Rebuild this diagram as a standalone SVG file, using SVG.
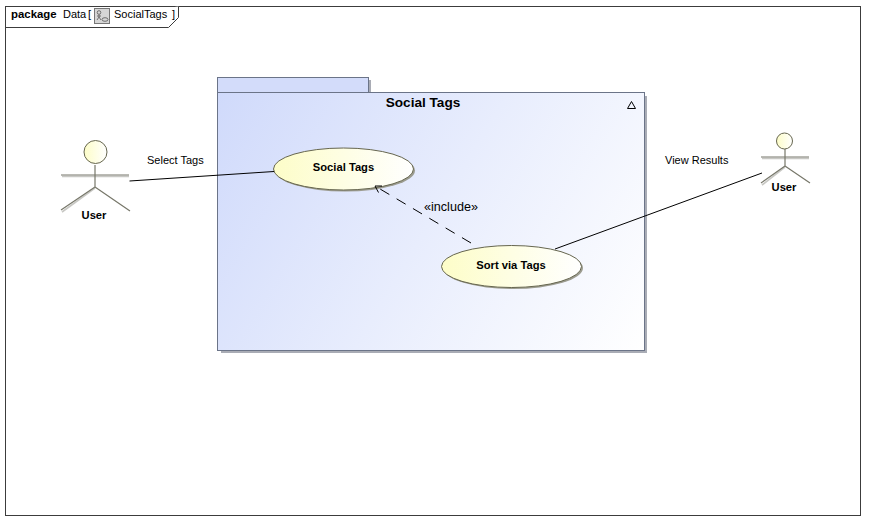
<svg xmlns="http://www.w3.org/2000/svg" width="875" height="530" viewBox="0 0 875 530">
<style>
text{font-family:"Liberation Sans",Arial,sans-serif;fill:#000}
.lbl{font-size:11px}
.b{font-size:11.200px;font-weight:bold;text-anchor:middle}
.shadow{fill:#a9acb5;stroke:none}
.pkg{fill:url(#pg);stroke:#6b7488;stroke-width:1}
.tab{fill:#d3dcfa;stroke:#6b7488;stroke-width:1}
.uc{fill:url(#ug);stroke:#66664f;stroke-width:1}
.ucs{fill:#9c9c90;stroke:none}
.limb{stroke:#77776a;stroke-width:1.2;fill:none}
.limbs{stroke:#c8c8c4;stroke-width:1.6;fill:none}
.head{fill:url(#ug);stroke:#66664f;stroke-width:1}
.conn{stroke:#000;stroke-width:1;fill:none}
</style>
<defs>
<linearGradient id="pg" gradientUnits="userSpaceOnUse" x1="218" y1="93" x2="645" y2="350"><stop offset="0" stop-color="#d0dafb"/><stop offset=".5" stop-color="#e8edfd"/><stop offset="1" stop-color="#ffffff"/></linearGradient>
<linearGradient id="ug" x1="0" y1="0" x2="1" y2="0"><stop offset="0" stop-color="#fdfdc8"/><stop offset="1" stop-color="#ffffff"/></linearGradient>
</defs>
<rect width="875" height="530" fill="#fff"/>
<g id="frame">
<rect x="5.500" y="6.500" width="855" height="509" fill="#fff" stroke="#3c3c3c" stroke-width="1"/>
<path d="M5.500 27.500H168.500L178.500 17.500V6.500" fill="#fff" stroke="#3c3c3c" stroke-width="1"/>
<text x="11" y="18" style="font-size:11.400px;font-weight:bold">package</text>
<text x="63" y="18" class="lbl">Data</text>
<text x="88" y="18" class="lbl">[</text>
<rect x="94.500" y="8.500" width="15" height="15" fill="#d6d6d6" stroke="#777"/>
<circle cx="99" cy="12.500" r="1.800" fill="none" stroke="#555" stroke-width=".8"/>
<path d="M99 14.500V17M97 16H101M99 17L97 20M99 17L101 20" fill="none" stroke="#555" stroke-width=".8"/>
<ellipse cx="105" cy="19.500" rx="3" ry="1.800" fill="none" stroke="#555" stroke-width=".8"/>
<text x="114" y="18" class="lbl">SocialTags</text>
<text x="172" y="18" class="lbl">]</text>
</g>
<g id="pkg-social-tags">
<rect x="221" y="80" width="150" height="14" class="shadow"/>
<rect x="221" y="96" width="426" height="257" class="shadow"/>
<rect x="217.500" y="77.500" width="151" height="15.500" class="tab"/>
<rect x="217.500" y="92.500" width="427" height="258" class="pkg"/>
<text x="423" y="107" style="font-size:13.600px;font-weight:bold;text-anchor:middle">Social Tags</text>
<path d="M631.500 101.500L635.500 108.500H627.500Z" fill="none" stroke="#000" stroke-width="1"/>
</g>
<g id="uc-social-tags">
<ellipse cx="345" cy="170.500" rx="70" ry="21" class="ucs"/>
<ellipse cx="343.500" cy="169" rx="70" ry="21" class="uc"/>
<text x="343.500" y="171" class="b">Social Tags</text>
</g>
<g id="uc-sort-via-tags">
<ellipse cx="513" cy="268" rx="70" ry="21" class="ucs"/>
<ellipse cx="511.500" cy="266.500" rx="70" ry="21" class="uc"/>
<text x="511" y="269" class="b">Sort via Tags</text>
</g>
<g id="actor-user-left">
<path d="M62 175.500H129M95 187L62 211" class="limbs" transform="translate(0 1)"/>
<path d="M95 165V187M61 175H129M95 187L61 210M95 187L130 211" class="limb"/>
<circle cx="95.500" cy="152" r="11.500" class="head"/>
<text x="94" y="219" class="b">User</text>
</g>
<g id="actor-user-right">
<path d="M762 157.500H809M785 166L762 184" class="limbs" transform="translate(0 1)"/>
<path d="M785 149V166M761 157H809M785 166L761 183M785 166L810 183" class="limb"/>
<circle cx="784.500" cy="141" r="8" class="head"/>
<text x="784" y="191" class="b">User</text>
</g>
<g id="connectors">
<path d="M129.500 181L274 171.500" class="conn"/>
<path d="M555 249L762 173" class="conn"/>
<path d="M471 243L375 186" class="conn" stroke-dasharray="10.500 8.500"/>
<path d="M382 186L375 186L378.500 192.500" class="conn"/>
<text x="147" y="164" class="lbl">Select Tags</text>
<text x="665" y="164" class="lbl">View Results</text>
<text x="424" y="211" style="font-size:12.600px">«include»</text>
</g>
</svg>
